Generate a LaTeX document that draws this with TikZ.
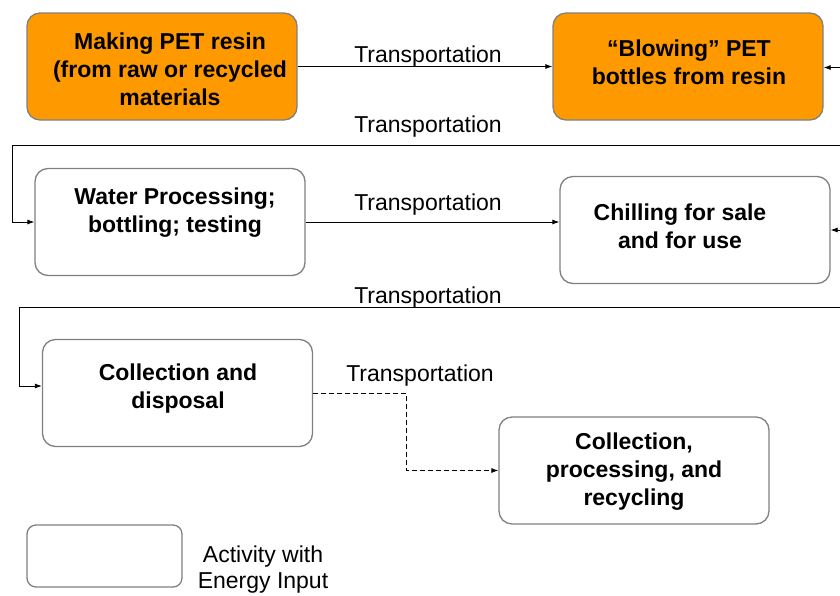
\documentclass[tikz,border=0pt]{standalone}
\usepackage{fontspec}
\setmainfont{Liberation Sans}
\usetikzlibrary{arrows.meta}
\definecolor{pet}{HTML}{FF9900}
\definecolor{edge}{HTML}{808080}
\begin{document}
\begin{tikzpicture}[x=1pt,y=-1pt,
  box/.style={draw=edge,line width=1.3pt,rounded corners=13pt,minimum width=270pt,minimum height=107pt,inner sep=0pt},
  orangebox/.style={box,fill=pet},
  btext/.style={font=\fontsize{23}{28}\selectfont\bfseries,align=center,inner sep=0pt},
  ltext/.style={font=\fontsize{23}{26}\selectfont,align=center,inner sep=0pt},
  conn/.style={line width=0.8pt,-{Latex[length=7pt,width=5pt]}},
  dconn/.style={conn,dash pattern=on 5pt off 3pt}]
\useasboundingbox (0,0) rectangle (840,595);
% boxes
\node[orangebox] (b1) at (162,66.5) {};
\node[orangebox] (b2) at (688,66.5) {};
\node[box] (b3) at (170,222) {};
\node[box] (b4) at (695,230) {};
\node[box] (b5) at (177.5,393) {};
\node[box] (b6) at (634,470.5) {};
\node[box,minimum width=155pt,minimum height=62pt,rounded corners=9pt] (lg) at (104.5,556) {};
% box texts
\node[btext] (t1) at (170,69) {Making PET resin\\(from raw or recycled\\materials};
\node[btext] (t2) at (689,62) {“Blowing” PET\\bottles from resin};
\node[btext] (t3) at (175,213) {Water Processing;\\bottling; testing};
\node[btext] (t4) at (680,226) {Chilling for sale\\and for use};
\node[btext] (t5) at (178,389) {Collection and\\disposal};
\node[btext] (t6) at (634,472) {Collection,\\processing, and\\recycling};
\node[ltext] (tl) at (263,570) {Activity with\\Energy Input};
% connectors
\coordinate (e1) at (840,67.5);
\coordinate (e2) at (840,145);
\coordinate (k2) at (12,145);
\coordinate (e3) at (840,230);
\coordinate (e4) at (840,307.5);
\coordinate (k4) at (19.5,307.5);
\coordinate (k5) at (406.5,393);
\draw[conn] (b1.east) -- (b2.west);
\draw[conn] (e1) -- (b2.east |- e1);
\draw[conn] (e2) -- (k2) |- (b3.west);
\draw[conn] (b3.east) -- (b3.east -| b4.west);
\draw[conn] (e3) -- (b4.east);
\draw[conn] (e4) -- (k4) |- ([yshift=7pt]b5.west);
\draw[dconn] (b5.east) -- (k5) |- (b6.west);
% labels
\node[ltext] (l1) at (428,57) {Transportation};
\node[ltext] (l2) at (428,127) {Transportation};
\node[ltext] (l3) at (428,205) {Transportation};
\node[ltext] (l4) at (428,298) {Transportation};
\node[ltext] (l5) at (420,376) {Transportation};
\end{tikzpicture}
\end{document}
